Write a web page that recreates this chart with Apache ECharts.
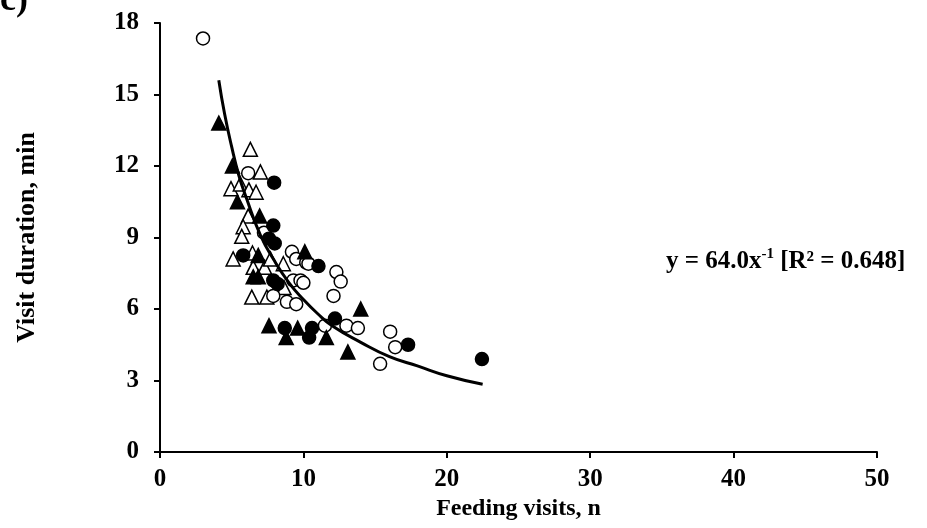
<!DOCTYPE html>
<html>
<head>
<meta charset="utf-8">
<script src="https://cdn.jsdelivr.net/npm/echarts@6/dist/echarts.min.js"></script>
<style>
  html, body { margin: 0; padding: 0; background: #fff; }
  #chart { width: 927px; height: 528px; }
</style>
</head>
<body>
<div id="chart"></div>
<script>
// [feeding visits, visit duration]
const filledCircles = [
  [7.96, 11.3], [7.9, 9.5], [7.6, 8.95], [8.0, 8.75], [5.8, 8.25],
  [7.9, 7.2], [8.2, 7.05], [11.05, 7.8], [12.2, 5.6], [8.7, 5.2],
  [10.6, 5.2], [10.4, 4.8], [17.3, 4.5], [22.45, 3.9]
];
const openCircles = [
  [3.0, 17.35], [6.15, 11.7], [7.25, 9.2], [9.2, 8.4], [9.5, 8.1],
  [10.2, 7.95], [10.35, 7.9], [9.3, 7.2], [9.8, 7.2], [10.0, 7.1],
  [8.85, 6.3], [9.5, 6.2], [7.9, 6.55], [12.3, 7.55], [12.6, 7.15],
  [12.1, 6.55], [11.5, 5.3], [13.0, 5.3], [13.8, 5.2], [16.05, 5.05],
  [16.4, 4.4], [15.35, 3.7]
];
const filledTriangles = [
  [4.1, 13.8], [5.05, 12.0], [5.4, 10.5], [6.95, 9.9], [6.85, 8.25],
  [6.5, 7.35], [6.85, 7.35], [10.1, 8.4], [7.6, 5.3], [9.6, 5.2],
  [8.8, 4.8], [11.6, 4.8], [13.1, 4.2], [14.0, 6.0]
];
const openTriangles = [
  [6.3, 12.7], [7.0, 11.75], [4.95, 11.05], [5.6, 11.25], [6.2, 11.0],
  [6.7, 10.9], [6.15, 9.9], [5.8, 9.45], [5.7, 9.05], [5.1, 8.1],
  [6.45, 8.35], [6.5, 7.75], [7.3, 7.75], [7.7, 8.1], [8.6, 7.9],
  [8.65, 6.9], [6.4, 6.5], [7.45, 6.5]
];
// fitted curve y = 64.0x^-1
const fitCurve = [
  [4.1, 15.6], [4.5, 14.2], [5, 12.8], [5.5, 11.6], [6, 10.7], [7, 9.1],
  [8, 8.0], [9, 7.1], [10, 6.4], [11, 5.8], [12, 5.3], [14, 4.6],
  [16, 4.0], [18, 3.6], [20, 3.2], [22.5, 2.84]
];
const xTicks = [0, 10, 20, 30, 40, 50];
const yTicks = [0, 3, 6, 9, 12, 15, 18];

const FONT = '"Liberation Serif", "Times New Roman", serif';
const chart = echarts.init(document.getElementById('chart'));

const axisCommon = {
  axisLine: { show: true, lineStyle: { color: '#000', width: 2 } },
  axisTick: { show: true, inside: false, length: 6, lineStyle: { color: '#000', width: 2 } },
  splitLine: { show: false },
  axisLabel: { color: '#000', fontFamily: FONT, fontWeight: 'bold', fontSize: 25 },
  nameTextStyle: { color: '#000', fontFamily: FONT, fontWeight: 'bold', fontSize: 26 },
  nameLocation: 'middle',
};

const scatter = (data, symbol, fill) => ({
  type: 'scatter',
  data,
  symbol,
  symbolSize: symbol === 'circle' ? 13 : 14,
  itemStyle: { color: fill, borderColor: '#000', borderWidth: 1.5, opacity: 1 },
  z: 3,
});

chart.setOption({
  animation: false,
  grid: { left: 160, right: 50, top: 23, bottom: 76 },
  xAxis: {
    ...axisCommon,
    type: 'value',
    min: xTicks[0],
    max: xTicks[xTicks.length - 1],
    interval: 10,
    name: 'Feeding visits, n',
    nameGap: 43,
    nameTextStyle: { ...axisCommon.nameTextStyle, fontSize: 24 },
    axisLabel: { ...axisCommon.axisLabel, margin: 15 },
  },
  yAxis: {
    ...axisCommon,
    type: 'value',
    min: yTicks[0],
    max: yTicks[yTicks.length - 1],
    interval: 3,
    name: 'Visit duration, min',
    nameGap: 120,
    axisLabel: { ...axisCommon.axisLabel, margin: 21 },
  },
  series: [
    scatter(openTriangles, 'triangle', '#fff'),
    scatter(openCircles, 'circle', '#fff'),
    scatter(filledTriangles, 'triangle', '#000'),
    scatter(filledCircles, 'circle', '#000'),
    {
      type: 'line',
      data: fitCurve,
      smooth: true,
      showSymbol: false,
      lineStyle: { color: '#000', width: 3 },
      z: 4,
    },
  ],
  graphic: [
    {
      type: 'text',
      left: 0,
      top: -17,
      style: { text: 'c)', font: 'bold 36px ' + FONT, fill: '#000' },
    },
    {
      type: 'text',
      left: 666,
      top: 247,
      style: {
        text: '{a|y = 64.0x}{s|-1}{a| [R² = 0.648]}',
        fill: '#000',
        rich: {
          a: { fontFamily: FONT, fontWeight: 'bold', fontSize: 25 },
          s: { fontFamily: FONT, fontWeight: 'bold', fontSize: 15, padding: [0, 0, 14, 0] },
        },
      },
    },
  ],
});
</script>
</body>
</html>
